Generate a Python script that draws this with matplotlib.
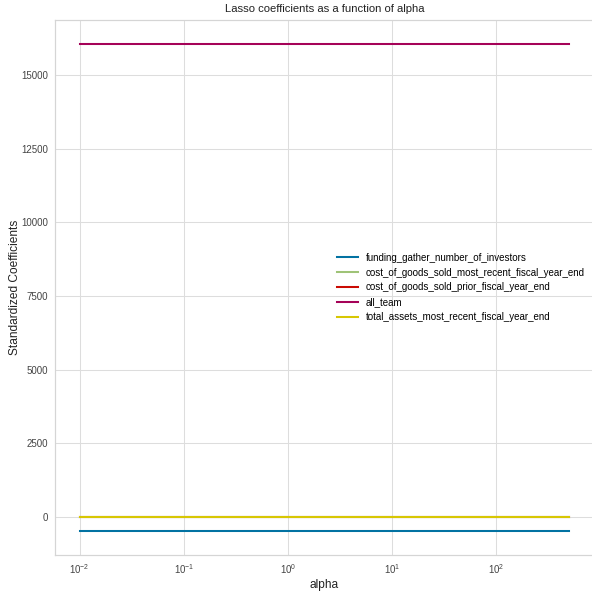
import numpy as np
import matplotlib
matplotlib.use("Agg")
import matplotlib.pyplot as plt

# alpha grid and (flat) coefficient paths
alphas = [0.01, 0.1, 1.0, 10.0, 100.0, 500.0]
features = [
    "funding_gather_number_of_investors",
    "cost_of_goods_sold_most_recent_fiscal_year_end",
    "cost_of_goods_sold_prior_fiscal_year_end",
    "all_team",
    "total_assets_most_recent_fiscal_year_end",
]
coef_values = [-480, 2, 1, 16060, 3]
colors = ["#0272a2", "#9fc377", "#ca0b03", "#a50258", "#d7c703"]

plt.rcParams["font.family"] = ["Liberation Sans", "DejaVu Sans"]

fig = plt.figure(figsize=(8, 8), dpi=74)
ax = fig.add_axes([0.093, 0.062, 0.91, 0.905])
ax.set_facecolor("white")

for name, c, col in zip(features, coef_values, colors):
    ax.plot(alphas, [c] * len(alphas), color=col, linewidth=2, label=name)

ax.set_xscale("log")
ax.grid(True, color="#dddddd", linewidth=1)
ax.set_axisbelow(True)
for s in ax.spines.values():
    s.set_color("#d5d5d5")
    s.set_linewidth(1.2)
ax.tick_params(colors="#444444", labelsize=9.5, length=0, pad=7)
ax.tick_params(axis="x", which="minor", length=0)

ax.set_title("Lasso coefficients as a function of alpha", fontsize=11, color="#222222", pad=7)
ax.set_xlabel("alpha", fontsize=11.5, color="#222222", labelpad=3)
ax.set_ylabel("Standardized Coefficients", fontsize=11.5, color="#222222", labelpad=0)

ax.legend(loc="center right", frameon=False, fontsize=9.5,
          bbox_to_anchor=(1.0, 0.5), handlelength=2.2)

fig.savefig("out.png", dpi=74)
